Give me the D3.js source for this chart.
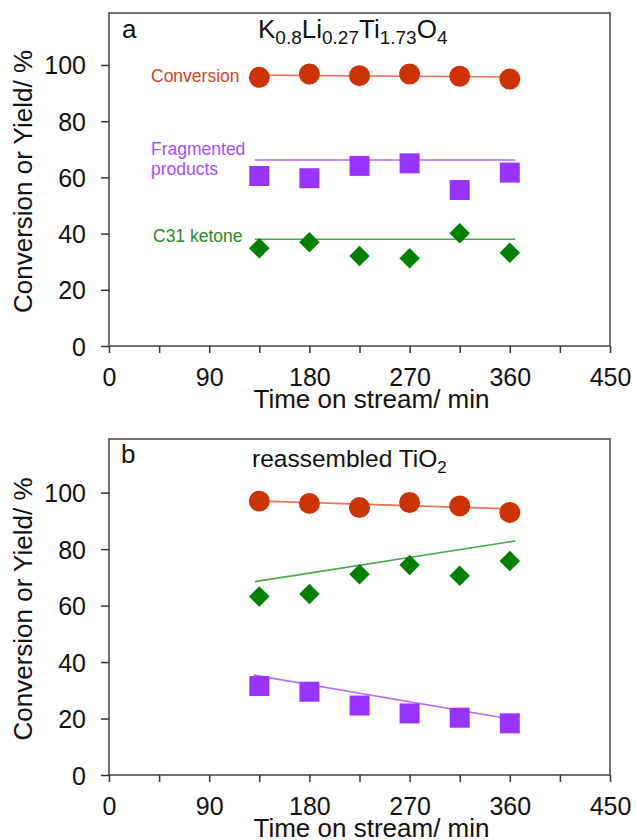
<!DOCTYPE html>
<html>
<head>
<meta charset="utf-8">
<script src="https://cdn.jsdelivr.net/npm/d3@7"></script>
<style>
  body { margin: 0; background: #fff; }
  svg { font-family: "Liberation Sans", Arial, sans-serif; }
</style>
</head>
<body>
<svg id="chart" width="636" height="840"></svg>
<script>
// time on stream, min
const times = [135, 180, 225, 270, 315, 360];
const xTicks = [0, 45, 90, 135, 180, 225, 270, 315, 360, 405, 450];
const yTicks = [0, 20, 40, 60, 80, 100];

// panel a: K0.8Li0.27Ti1.73O4
const convA = [95.6, 96.8, 96.2, 96.8, 96.0, 95.0];
const fragA = [60.5, 59.7, 64.1, 65.0, 55.5, 61.7];
const ketA  = [34.8, 36.9, 32.0, 31.2, 40.1, 33.2];
const convLineA = [[131, 96.4], [365, 95.7]];
const fragLineA = [[131, 66.2], [365, 66.2]];
const ketLineA  = [[131, 38.0], [365, 38.0]];

// panel b: reassembled TiO2
const convB = [97.0, 96.2, 94.7, 96.5, 95.3, 93.0];
const fragB = [31.5, 29.5, 24.6, 21.8, 20.3, 18.3];
const ketB  = [63.2, 64.1, 71.1, 74.4, 70.6, 75.8];
const convLineB = [[131, 97.1], [365, 94.2]];
const fragLineB = [[130, 35.4], [365, 19.5]];
const ketLineB  = [[131, 68.5], [365, 82.9]];

const red = "#cc3300", purple = "#9933ff", green = "#008000";
const redLine = "#e8735a", purpleLine = "#b36bff", greenLine = "#4aa84a";

const svg = d3.select("#chart");

function panel(top, bottom, yMax, series, lines) {
  const x = d3.scaleLinear().domain([0, 450]).range([109, 610]);
  const y = d3.scaleLinear().domain([0, yMax]).range([bottom, top]);
  const g = svg.append("g");

  g.append("rect")
    .attr("x", x(0)).attr("y", y(yMax))
    .attr("width", x(450) - x(0)).attr("height", y(0) - y(yMax))
    .attr("fill", "none").attr("stroke", "#444").attr("stroke-width", 1.5);

  const xa = g.append("g")
    .attr("transform", `translate(0,${y(0)})`)
    .call(d3.axisBottom(x).tickValues(xTicks).tickSize(7).tickSizeOuter(0)
      .tickFormat(d => d % 90 === 0 ? d : ""));
  xa.select(".domain").remove();
  xa.selectAll("line").attr("stroke", "#333").attr("stroke-width", 1.5);
  xa.selectAll("text").attr("y", 40).attr("dy", 0)
    .attr("font-size", 25).attr("fill", "#111").attr("font-family", null);

  const ya = g.append("g")
    .attr("transform", `translate(${x(0)},0)`)
    .call(d3.axisLeft(y).tickValues(yTicks).tickSize(8).tickSizeOuter(0));
  ya.select(".domain").remove();
  ya.selectAll("line").attr("stroke", "#333").attr("stroke-width", 1.5);
  ya.selectAll("text").attr("x", -23).attr("dy", "0.36em")
    .attr("font-size", 25).attr("fill", "#111").attr("font-family", null);

  g.append("text")
    .attr("x", (x(0) + x(450)) / 2 + 12).attr("y", y(0) + 62)
    .attr("text-anchor", "middle").attr("font-size", 26).attr("fill", "#111")
    .text("Time on stream/ min");

  g.append("text")
    .attr("transform", `translate(32,${(top + bottom) / 2 + 2}) rotate(-90)`)
    .attr("text-anchor", "middle").attr("font-size", 26).attr("fill", "#111")
    .text("Conversion or Yield/ %");

  const line = d3.line().x(d => x(d[0])).y(d => y(d[1]));
  lines.forEach(l => {
    g.append("path").attr("d", line(l.pts))
      .attr("fill", "none").attr("stroke", l.color).attr("stroke-width", 1.6);
  });

  series.forEach(s => {
    const sym = d3.symbol().type(s.type).size(s.size);
    g.append("g").selectAll("path")
      .data(s.values)
      .join("path")
        .attr("transform", (d, i) => `translate(${x(times[i])},${y(d)})${s.rot ? " rotate(45)" : ""}`)
        .attr("d", sym)
        .attr("fill", s.color);
  });
  return {x, y, g};
}

const A = panel(13, 346, 118.5,
  [
    {values: convA, type: d3.symbolCircle, size: Math.PI * 110, color: red},
    {values: fragA, type: d3.symbolSquare, size: 400, color: purple},
    {values: ketA, type: d3.symbolSquare, size: 210, color: green, rot: true}
  ],
  [
    {pts: convLineA, color: redLine},
    {pts: fragLineA, color: purpleLine},
    {pts: ketLineA, color: greenLine}
  ]);

const B = panel(439, 775, 119,
  [
    {values: convB, type: d3.symbolCircle, size: Math.PI * 110, color: red},
    {values: fragB, type: d3.symbolSquare, size: 400, color: purple},
    {values: ketB, type: d3.symbolSquare, size: 210, color: green, rot: true}
  ],
  [
    {pts: convLineB, color: redLine},
    {pts: fragLineB, color: purpleLine},
    {pts: ketLineB, color: greenLine}
  ]);

// panel letters and titles
A.g.append("text").attr("x", 122).attr("y", 38).attr("font-size", 26).attr("fill", "#111").text("a");
B.g.append("text").attr("x", 121).attr("y", 463).attr("font-size", 26).attr("fill", "#111").text("b");

const tA = A.g.append("text").attr("x", 258).attr("y", 38).attr("font-size", 26).attr("fill", "#111");
[["K", 0], ["0.8", 1], ["Li", 0], ["0.27", 1], ["Ti", 0], ["1.73", 1], ["O", 0], ["4", 1]].forEach(([t, sub], i, arr) => {
  const prevSub = i > 0 ? arr[i - 1][1] : 0;
  tA.append("tspan")
    .attr("font-size", sub ? 19 : 26)
    .attr("dy", sub === prevSub ? 0 : (sub ? 6 : -6))
    .text(t);
});

const tB = B.g.append("text").attr("x", 252).attr("y", 467).attr("font-size", 24.5).attr("fill", "#111");
tB.append("tspan").text("reassembled TiO");
tB.append("tspan").attr("font-size", 17).attr("dy", 6).text("2");

// series labels in panel a
A.g.append("text").attr("x", 151).attr("y", 82).attr("font-size", 17.5).attr("fill", "#d0451b").text("Conversion");
A.g.append("text").attr("x", 151).attr("y", 155).attr("font-size", 17.5).attr("fill", "#a64dff").text("Fragmented");
A.g.append("text").attr("x", 151).attr("y", 175).attr("font-size", 17.5).attr("fill", "#a64dff").text("products");
A.g.append("text").attr("x", 153).attr("y", 242).attr("font-size", 17.5).attr("fill", "#2a8a2a").text("C31 ketone");
</script>
</body>
</html>
